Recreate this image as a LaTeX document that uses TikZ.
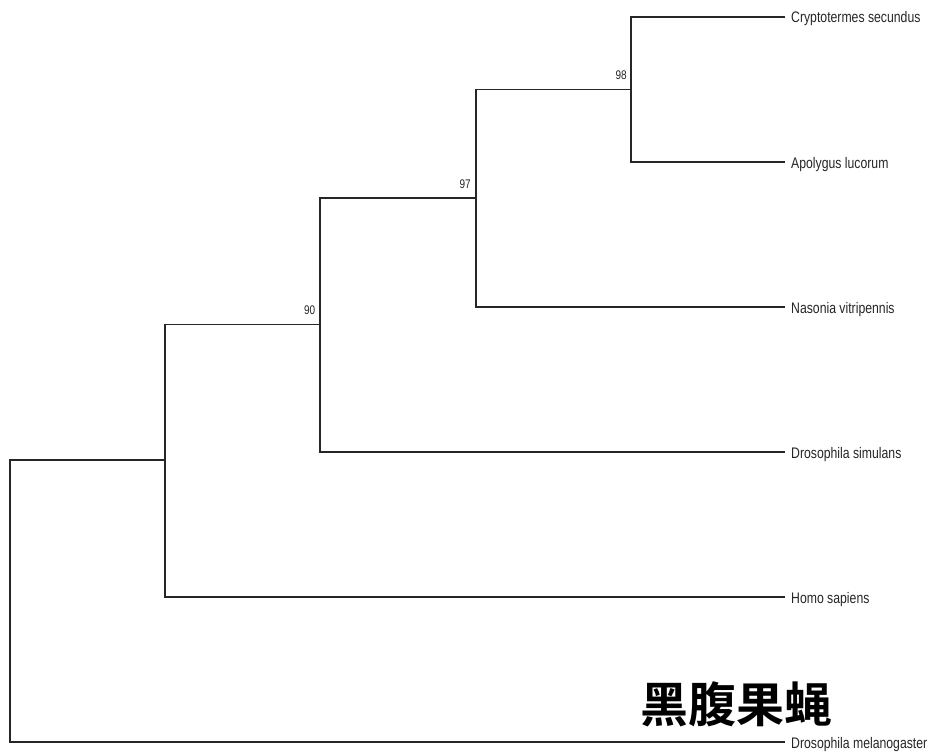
\documentclass[tikz,border=0pt]{standalone}
\usepackage{fontspec}
\newfontfamily\narrowfont[FakeStretch=0.8]{Liberation Sans}
\newfontfamily\cjk[BoldFont=Noto Sans CJK SC Bold]{Noto Sans CJK SC}
\begin{document}
\begin{tikzpicture}[x=1pt,y=-1pt,
  branch/.style={draw=black!85,line width=1.1pt},
  leaflabel/.style={anchor=base west,inner sep=0pt,font=\narrowfont\fontsize{15.3}{15.3}\selectfont,text=black!85},
  boot/.style={anchor=south east,inner sep=0pt,font=\narrowfont\fontsize{12.5}{12.5}\selectfont,text=black!85}]
\useasboundingbox (0,0) rectangle (928,754);
% internal node coordinates
\coordinate (n98) at (631,89.5);
\coordinate (n97) at (476,198);
\coordinate (n90) at (320,324.5);
\coordinate (n80) at (165,460);
\coordinate (root) at (10,460);
% leaf tips
\coordinate (t1) at (785,17);
\coordinate (t2) at (785,162);
\coordinate (t3) at (785,307);
\coordinate (t4) at (785,452);
\coordinate (t5) at (785,597);
\coordinate (t6) at (785,742);
% leaf labels
\node[leaflabel] (l1) at (791,23) {Cryptotermes secundus};
\node[leaflabel] (l2) at (791,168) {Apolygus lucorum};
\node[leaflabel] (l3) at (791,313) {Nasonia vitripennis};
\node[leaflabel] (l4) at (791,458) {Drosophila simulans};
\node[leaflabel] (l5) at (791,603) {Homo sapiens};
\node[leaflabel] (l6) at (791,748) {Drosophila melanogaster};
% branches
\draw[branch] (t1) -| (n98) |- (t2);
\draw[branch] (n98) -| (n97) |- (t3);
\draw[branch] (n97) -| (n90) |- (t4);
\draw[branch] (n90) -| (n80) |- (t5);
\draw[branch] (n80) -- (root) |- (t6);
% bootstrap values
\node[boot] (b98) at (627,80) {98};
\node[boot] (b97) at (471,188.5) {97};
\node[boot] (b90) at (315.5,315) {90};
% chinese label
\node[inner sep=0pt,font=\cjk\bfseries\fontsize{48}{48}\selectfont] (cn) at (736,704) {黑腹果蝇};
\end{tikzpicture}
\end{document}
